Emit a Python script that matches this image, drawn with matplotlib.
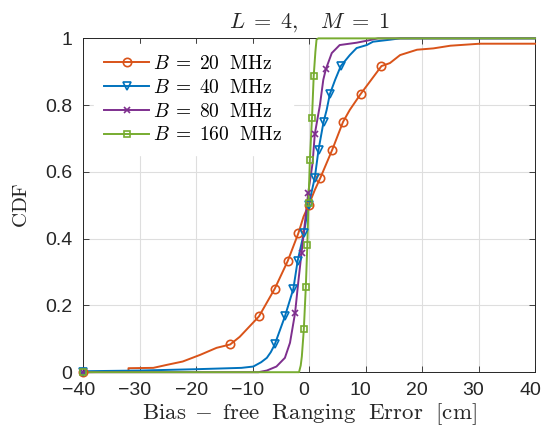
import matplotlib
matplotlib.use("Agg")
import matplotlib.pyplot as plt
import matplotlib.transforms as mtransforms
from matplotlib.lines import Line2D

plt.rcParams['mathtext.fontset'] = 'cm'
plt.rcParams['font.family'] = ['Liberation Sans', 'DejaVu Sans']

# ---- data ------------------------------------------------------------
# B = 20 MHz
x20 = [-40, -32.0, -32.0, -27.6, -25.2, -22.4, -19.3, -16.4, -14.0, -12.3, -8.9,
       -6.1, -3.8, -1.9, -1.0, -0.1, 1.0, 2.0, 4.1, 6.0, 7.2, 9.1, 12.8, 14.3,
       16.1, 19.1, 22.0, 25.0, 30.2, 40]
y20 = [0.0, 0.002, 0.012, 0.013, 0.022, 0.032, 0.052, 0.073, 0.083, 0.106, 0.167,
       0.25, 0.333, 0.417, 0.466, 0.5, 0.546, 0.583, 0.667, 0.75, 0.786, 0.833,
       0.917, 0.926, 0.95, 0.966, 0.97, 0.978, 0.984, 0.984]
mx20 = [-40, -14.0, -8.9, -6.1, -3.8, -1.9, -0.1, 2.0, 4.1, 6.0, 9.1, 12.8]
my20 = [0.0, 0.083, 0.167, 0.25, 0.333, 0.417, 0.5, 0.583, 0.667, 0.75, 0.833, 0.917]

# B = 40 MHz
x40 = [-40, -39.5, -30, -20, -12, -9.9, -8.5, -7.5, -6.8, -6.1, -4.3, -2.8, -2.05,
       -0.94, -0.1, 1.0, 1.66, 2.55, 3.1, 3.66, 4.6, 5.6, 7.2, 8.4, 10.2, 11.3,
       14.3, 16.1, 40]
y40 = [0.0, 0.003, 0.005, 0.009, 0.013, 0.017, 0.03, 0.043, 0.06, 0.083, 0.167,
       0.25, 0.333, 0.417, 0.5, 0.583, 0.667, 0.75, 0.786, 0.833, 0.876, 0.917,
       0.95, 0.971, 0.98, 0.99, 0.996, 1.0, 1.0]
mx40 = [-40, -6.1, -4.3, -2.8, -2.05, -0.94, -0.1, 1.0, 1.66, 2.55, 3.66, 5.6]
my40 = [0.0, 0.083, 0.167, 0.25, 0.333, 0.417, 0.5, 0.583, 0.667, 0.75, 0.833, 0.917]

# B = 80 MHz
x80 = [-40, -9.0, -7.5, -5.8, -4.3, -3.4, -2.5, -1.95, -1.35, -0.76, -0.18, 0.6,
       1.0, 1.9, 2.5, 2.96, 4.0, 5.4, 8.4, 10.2, 12.2, 40]
y80 = [0.0, 0.0, 0.005, 0.017, 0.043, 0.088, 0.177, 0.267, 0.358, 0.447, 0.536,
       0.626, 0.714, 0.8, 0.876, 0.908, 0.956, 0.98, 0.987, 0.993, 1.0, 1.0]
mx80 = [-40, -2.5, -1.35, -0.18, 1.0, 2.96]
my80 = [0.0, 0.177, 0.358, 0.536, 0.714, 0.908]

# B = 160 MHz
x160 = [-40, -1.8, -1.5, -1.3, -0.95, -0.6, -0.33, -0.12, 0.12, 0.5, 0.8, 1.1,
        1.3, 1.6, 40]
y160 = [0.0, 0.0, 0.02, 0.047, 0.128, 0.254, 0.381, 0.508, 0.635, 0.762, 0.887,
        0.96, 0.996, 1.0, 1.0]
mx160 = [-40, -0.95, -0.6, -0.33, -0.12, 0.12, 0.5, 0.8]
my160 = [0.0, 0.128, 0.254, 0.381, 0.508, 0.635, 0.762, 0.887]

labels = [r'$B\;=\;20\ \ \mathrm{MHz}$', r'$B\;=\;40\ \ \mathrm{MHz}$',
          r'$B\;=\;80\ \ \mathrm{MHz}$', r'$B\;=\;160\ \ \mathrm{MHz}$']
colors = ['#D95319', '#0072BD', '#7E2F8E', '#77AC30']
markers = ['o', 'v', 'x', 's']
msizes = [6, 6, 4.5, 5]

xticks = [-40, -30, -20, -10, 0, 10, 20, 30, 40]
yticks = [0, 0.2, 0.4, 0.6, 0.8, 1]
yticklabels = ['0', '0.2', '0.4', '0.6', '0.8', '1']

# ---- plot -------------------------------------------------------------
fig = plt.figure(figsize=(5.41, 4.41), dpi=100)
ax = fig.add_axes([0.154, 0.156, 0.835, 0.757])

series = [(x20, y20, mx20, my20), (x40, y40, mx40, my40),
          (x80, y80, mx80, my80), (x160, y160, mx160, my160)]
handles = []
for (x, y, mx, my), c, m, ms, lab in zip(series, colors, markers, msizes, labels):
    ax.plot(x, y, color=c, lw=1.4, clip_on=False, zorder=3)
    ax.plot(mx, my, ls='none', marker=m, ms=ms, mfc='none', mec=c, mew=1.2,
            clip_on=False, zorder=4)
    handles.append(Line2D([], [], color=c, lw=1.4, marker=m, ms=ms, mfc='none',
                          mec=c, mew=1.2, label=lab))

ax.set_xlim(-40, 40)
ax.set_ylim(0, 1)
ax.set_xticks(xticks)
ax.set_yticks(yticks)
ax.set_yticklabels(yticklabels)
ax.grid(True, color='#dedede', lw=0.8)
ax.set_axisbelow(True)
ax.tick_params(direction='in', top=True, right=True, length=4, width=0.6,
               labelsize=14, colors='#262626')
ax.tick_params(axis='x', pad=7)
ax.tick_params(axis='y', pad=8)
for s in ax.spines.values():
    s.set_color('#262626')
    s.set_linewidth(0.7)

# labels sit a bit left of their ticks in the reference
shift = mtransforms.ScaledTranslation(-0.05, 0, fig.dpi_scale_trans)
for t in ax.get_xticklabels():
    t.set_transform(t.get_transform() + shift)

ax.set_title(r'$L\;=\;4,\ \ \ M\;=\;1$', fontsize=16, color='#262626', pad=8)
ax.set_xlabel(r'$\mathrm{Bias\;-\;free\ \ Ranging\ \ Error\ \ [cm]}$',
              fontsize=16.5, color='#262626', labelpad=2)
ax.set_ylabel(r'$\mathrm{CDF}$', fontsize=15, color='#262626', labelpad=10)

leg = ax.legend(handles=handles, loc='upper left', fontsize=14, frameon=True,
                fancybox=False, edgecolor='white', framealpha=1,
                handlelength=2.3, handletextpad=0.2, labelspacing=0.3,
                borderaxespad=0.3, borderpad=0.55,
                bbox_to_anchor=(0.01, 1.0))

fig.savefig('out.png', dpi=100)
